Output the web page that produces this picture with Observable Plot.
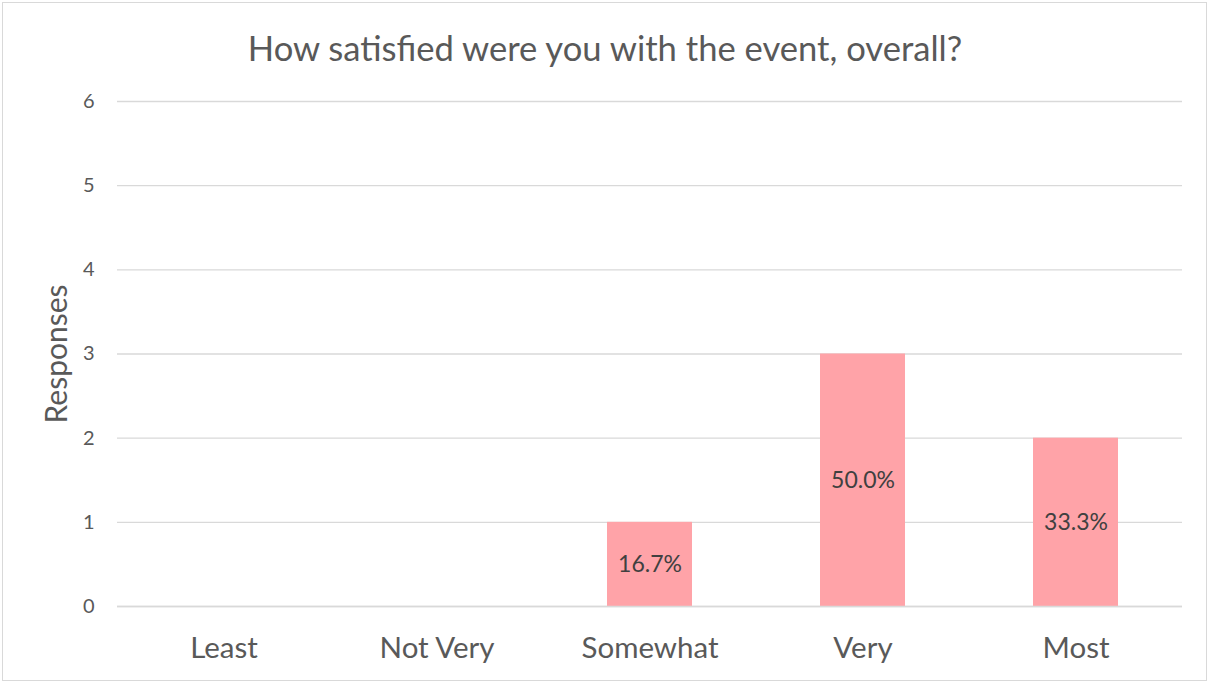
<!DOCTYPE html>
<html>
<head>
<meta charset="utf-8">
<script src="https://cdn.jsdelivr.net/npm/d3@7"></script>
<script src="https://cdn.jsdelivr.net/npm/@observablehq/plot@0.6"></script>
<style>
  html, body { margin: 0; padding: 0; background: #fff; }
  #wrap { position: relative; width: 1210px; height: 684px; font-family: Lato, "Open Sans", sans-serif; color: #595959; overflow: hidden; }
  #frame { position: absolute; left: 2px; top: 2px; width: 1203px; height: 677px; border: 1px solid #d9d9d9; pointer-events: none; }
  #title { height: 85px; line-height: 96px; text-align: center; font-size: 34.6px; color: #595959; white-space: nowrap; }
  svg { display: block; }
</style>
</head>
<body>
<div id="wrap">
  <div id="title">How satisfied were you with the event, overall?</div>
  <div id="chart"></div>
  <div id="frame"></div>
</div>
<script>
const categories = ["Least", "Not Very", "Somewhat", "Very", "Most"];
const responses = [0, 0, 1, 3, 2];
const yTicks = [0, 1, 2, 3, 4, 5, 6];

const total = d3.sum(responses);
const data = categories.map((c, i) => ({ category: c, count: responses[i], pct: responses[i] / total }));
const fmt = d3.format(".1%");

const chart = Plot.plot({
  width: 1210,
  height: 599,
  marginLeft: 117,
  marginRight: 28,
  marginTop: 16,
  marginBottom: 78,
  style: { fontFamily: "Lato, 'Open Sans', sans-serif", color: "#595959", background: "#fff" },
  x: { domain: categories, paddingInner: 0.6, paddingOuter: 0.3, label: null },
  y: { domain: [0, 6], label: null },
  marks: [
    Plot.gridY(yTicks, { stroke: "#d9d9d9", strokeOpacity: 1, strokeWidth: 1.3 }),
    Plot.barY(data.filter(d => d.count > 0), { x: "category", y: "count", fill: "#FFA3A8" }),
    Plot.ruleY([0], { stroke: "#d9d9d9", strokeWidth: 1.3 }),
    Plot.text(data.filter(d => d.count > 0), {
      x: "category", y: d => d.count / 2, text: d => fmt(d.pct),
      fill: "#404040", fontSize: 23
    }),
    Plot.axisY(yTicks, { tickSize: 0, tickPadding: 23, fontSize: 20, fill: "#595959", label: null, tickFormat: d => d }),
    Plot.axisX({ tickSize: 0, tickPadding: 31, fontSize: 29.5, fill: "#595959", label: null }),
    Plot.text(["Responses"], {
      frameAnchor: "left", dx: -60, rotate: -90, textAnchor: "middle", fontSize: 30, fill: "#595959"
    })
  ]
});
document.getElementById("chart").appendChild(chart);
</script>
</body>
</html>
